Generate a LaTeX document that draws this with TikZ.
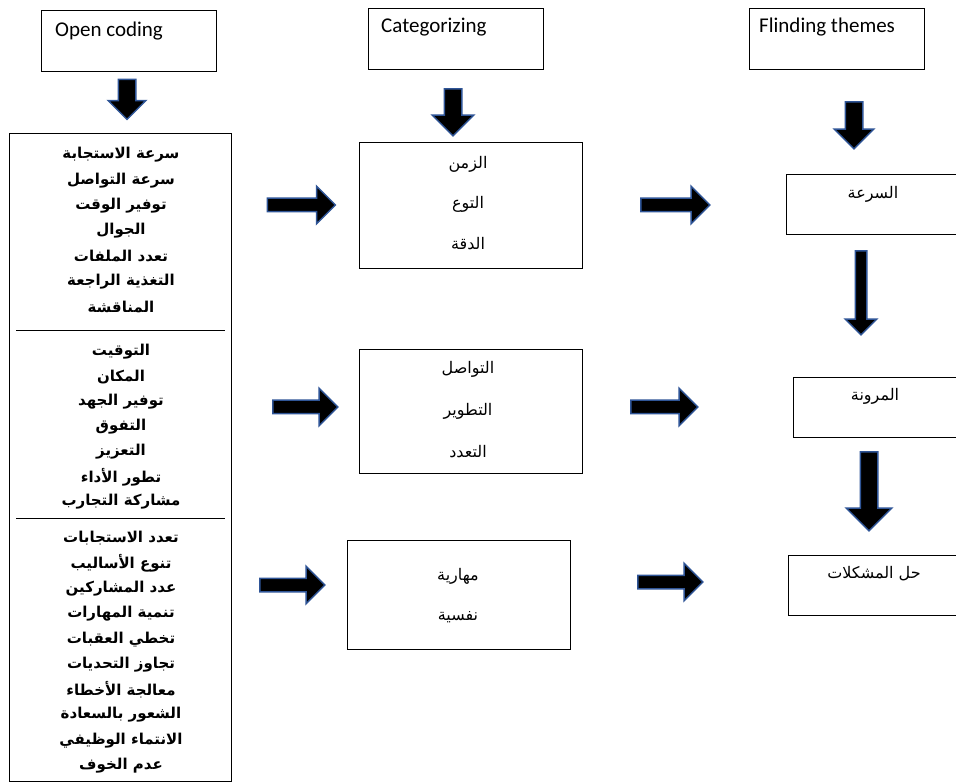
\documentclass[tikz,border=0pt]{standalone}
\usepackage{fontspec}
\setmainfont{Carlito}
\newfontfamily\arabicfont[Script=Arabic]{DejaVu Sans}
\TeXXeTstate=1
\usetikzlibrary{shapes.arrows}
\definecolor{arrowblue}{HTML}{2F5597}
\newcommand{\artext}[1]{\beginR #1\endR}
\tikzset{
box/.style={draw, line width=0.9pt, inner sep=0pt, anchor=north west},
heading/.style={anchor=west, inner sep=0pt, font=\fontsize{21}{21}\selectfont},
codeword/.style={inner sep=0pt, font=\arabicfont\bfseries\fontsize{15}{15}\selectfont},
catword/.style={inner sep=0pt, font=\arabicfont\fontsize{16}{16}\selectfont},
blockarrow/.style={shape=single arrow, fill=black, draw=arrowblue, line width=1.5pt,
  inner xsep=0pt, text height=0pt, text depth=0pt},
}

\begin{document}
\begin{tikzpicture}[x=1pt, y=-1pt]
    \useasboundingbox (0,0) rectangle (956,783);

    %headings
    \node[box, minimum width=175pt, minimum height=61pt] (open) at (41,10) {};
    \node[box, minimum width=175pt, minimum height=61pt] (cat) at (368,8) {};
    \node[box, minimum width=175pt, minimum height=61pt] (theme) at (749,8) {};
    \node[heading] (opent) at (55,31) {Open coding};
    \node[heading] (catt) at (381,27) {Categorizing};
    \node[heading] (themet) at (759,27) {Flinding themes};

    %open codes
    \node[box, minimum width=222pt, minimum height=648pt] (codes) at (9,133) {};
    \draw[line width=0.9pt] (16,330) -- (225,330);
    \draw[line width=0.9pt] (16,518) -- (225,518);
    \foreach \w [count=\i] in {سرعة الاستجابة, سرعة التواصل, توفير الوقت, الجوال, تعدد الملفات, التغذية الراجعة, المناقشة}
        \node[codeword] (ca\i) at (121,{155+25.3*(\i-1)}) {\artext{\w}};
    \foreach \w [count=\i] in {التوقيت, المكان, توفير الجهد, التفوق, التعزيز, تطور الأداء, مشاركة التجارب}
        \node[codeword] (cb\i) at (121,{352+25*(\i-1)}) {\artext{\w}};
    \foreach \w [count=\i] in {تعدد الاستجابات, تنوع الأساليب, عدد المشاركين, تنمية المهارات, تخطي العقبات, تجاوز التحديات, معالجة الأخطاء, الشعور بالسعادة, الانتماء الوظيفي, عدم الخوف}
        \node[codeword] (cc\i) at (121,{538+25.3*(\i-1)}) {\artext{\w}};

    %categories
    \node[box, minimum width=223pt, minimum height=126pt] (cat1) at (359,142) {};
    \node[box, minimum width=223pt, minimum height=124pt] (cat2) at (359,349) {};
    \node[box, minimum width=223pt, minimum height=109pt] (cat3) at (347,540) {};
    \node[catword] (k1) at (468,164) {\artext{الزمن}};
    \node[catword] (k2) at (468,204) {\artext{التوع}};
    \node[catword] (k3) at (468,244) {\artext{الدقة}};
    \node[catword] (k4) at (468,369) {\artext{التواصل}};
    \node[catword] (k5) at (468,411) {\artext{التطوير}};
    \node[catword] (k6) at (468,452) {\artext{التعدد}};
    \node[catword] (k7) at (458,576) {\artext{مهارية}};
    \node[catword] (k8) at (458,617) {\artext{نفسية}};

    %themes
    \node[box, minimum width=185pt, minimum height=60pt] (th1) at (786,174) {};
    \node[box, minimum width=185pt, minimum height=60pt] (th2) at (793,377) {};
    \node[box, minimum width=185pt, minimum height=60pt] (th3) at (788,555) {};
    \node[catword] (t1) at (873,194) {\artext{السرعة}};
    \node[catword] (t2) at (875,396) {\artext{المرونة}};
    \node[catword] (t3) at (874,574) {\artext{حل المشكلات}};

    %block arrows
    \node[blockarrow, rotate=-90, minimum height=40pt, inner ysep=8pt, single arrow head extend=10pt] (a0) at (127,95) {};
    \node[blockarrow, rotate=-90, minimum height=47pt, inner ysep=8pt, single arrow head extend=12pt] (a1) at (453,108) {};
    \node[blockarrow, rotate=-90, minimum height=47pt, inner ysep=8pt, single arrow head extend=11pt] (a2) at (854,121) {};
    \node[blockarrow, rotate=-90, minimum height=84pt, inner ysep=5pt, single arrow head extend=10pt] (r1) at (861,290) {};
    \node[blockarrow, rotate=-90, minimum height=79pt, inner ysep=8pt, single arrow head extend=14pt] (r2) at (869,487) {};
    \node[blockarrow, minimum height=68pt, inner ysep=6pt, single arrow head extend=12pt] (h1l) at (298,205) {};
    \node[blockarrow, minimum height=69pt, inner ysep=6pt, single arrow head extend=12pt] (h1r) at (672,205) {};
    \node[blockarrow, minimum height=65pt, inner ysep=6pt, single arrow head extend=12pt] (h2l) at (302,407) {};
    \node[blockarrow, minimum height=67pt, inner ysep=6pt, single arrow head extend=12pt] (h2r) at (661,407) {};
    \node[blockarrow, minimum height=65pt, inner ysep=6pt, single arrow head extend=12pt] (h3l) at (289,585) {};
    \node[blockarrow, minimum height=65pt, inner ysep=6pt, single arrow head extend=12pt] (h3r) at (667,582) {};

\end{tikzpicture}
\end{document}
